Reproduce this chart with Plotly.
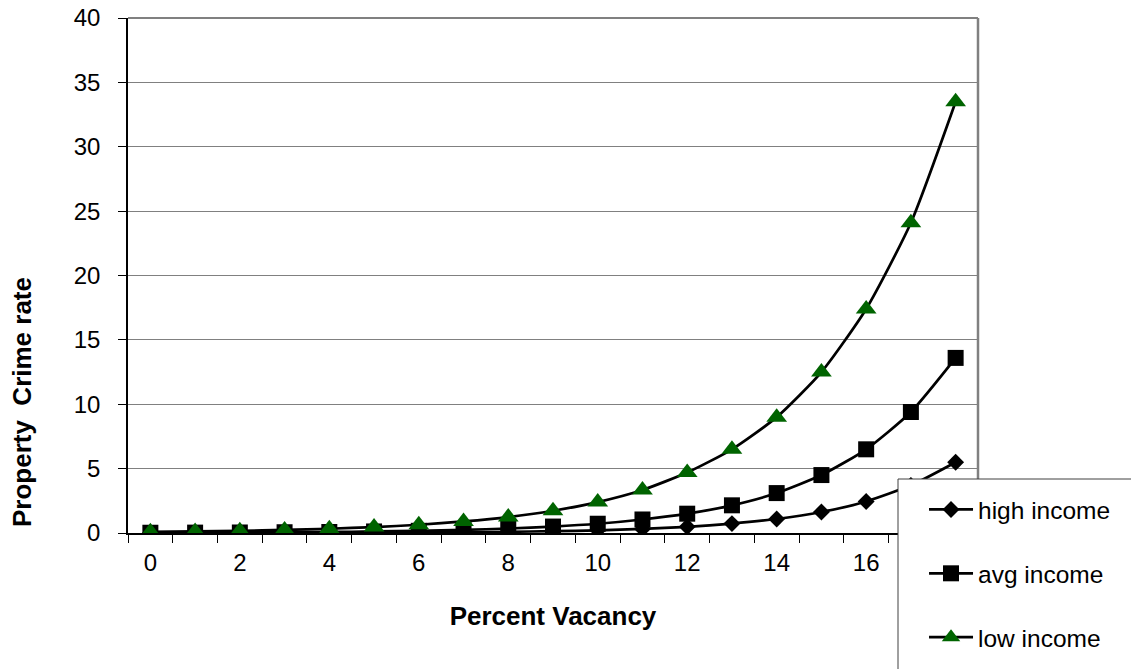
import plotly.graph_objects as go

vacancy = list(range(0, 19))
high_income = [0.004, 0.006, 0.008, 0.012, 0.019, 0.028, 0.042, 0.063, 0.095, 0.14, 0.21, 0.32, 0.48, 0.73, 1.09, 1.63, 2.45, 3.7, 5.5]
avg_income = [0.02, 0.03, 0.04, 0.06, 0.08, 0.12, 0.17, 0.24, 0.35, 0.5, 0.72, 1.05, 1.5, 2.15, 3.1, 4.5, 6.5, 9.4, 13.6]
low_income = [0.09, 0.12, 0.17, 0.24, 0.33, 0.46, 0.64, 0.9, 1.24, 1.73, 2.4, 3.34, 4.7, 6.5, 9.0, 12.5, 17.4, 24.1, 33.5]
x_tick_vals = [0, 2, 4, 6, 8, 10, 12, 14, 16]
y_tick_vals = [0, 5, 10, 15, 20, 25, 30, 35, 40]

FONT = "Liberation Sans, Arial, sans-serif"
W, H = 1131, 669

fig = go.Figure()
series = [
    ("high income", high_income, dict(symbol="diamond", size=13, color="black")),
    ("avg income", avg_income, dict(symbol="square", size=16, color="black")),
    ("low income", low_income, dict(symbol="triangle-up", size=18, color="#006400")),
]
for i, (name, vals, mk) in enumerate(series):
    fig.add_trace(go.Scatter(
        x=vacancy, y=vals, name=name, mode="lines+markers",
        line=dict(color="black", width=2.7, shape="spline", smoothing=0.6),
        marker=mk, legendgroup=f"g{i}",
    ))

fig.update_layout(
    width=W, height=H,
    margin=dict(l=0, r=0, t=0, b=0, autoexpand=False),
    paper_bgcolor="white", plot_bgcolor="white",
    font=dict(family=FONT, size=24, color="black"),
    showlegend=True,
    legend=dict(
        x=0.817, y=0.272, xanchor="left", yanchor="top",
        bgcolor="rgba(0,0,0,0)", borderwidth=0,
        font=dict(family=FONT, size=24.5, color="black"),
        tracegroupgap=29, itemwidth=44,
    ),
    xaxis=dict(
        domain=[128 / W, 978 / W],
        range=[-0.5, 18.5], tickmode="array", tickvals=x_tick_vals,
        ticks="", showgrid=False, zeroline=False, automargin=False,
        showline=True, linecolor="black", linewidth=1.5,
        minor=dict(tick0=-0.5, dtick=1, ticks="outside", ticklen=8, tickcolor="black", tickwidth=1, showgrid=False),
        title=dict(text="<b>Percent Vacancy</b>", font=dict(family=FONT, size=26), standoff=32),
        tickfont=dict(size=24), ticklabelstandoff=7,
    ),
    yaxis=dict(
        domain=[(H - 533) / H, (H - 18) / H],
        range=[0, 40], tickmode="array", tickvals=y_tick_vals,
        ticks="outside", ticklen=8, tickcolor="black",
        showgrid=True, gridcolor="#808080", gridwidth=1,
        zeroline=False, showline=True, linecolor="black", linewidth=1.5, automargin=False,
        tickfont=dict(size=24), ticklabelstandoff=13,
    ),
    annotations=[
        dict(text="<b>Property  Crime rate</b>", textangle=-90, showarrow=False,
             xref="paper", yref="paper", x=22 / W, y=1 - 402 / H,
             xanchor="center", yanchor="middle", font=dict(family=FONT, size=26, color="black")),
    ],
    shapes=[
        dict(type="line", xref="x domain", yref="y domain", x0=0, x1=1, y0=1, y1=1, line=dict(color="#808080", width=2)),
        dict(type="line", xref="x domain", yref="y domain", x0=1, x1=1, y0=0, y1=1, line=dict(color="#808080", width=2.5)),
        dict(type="rect", xref="paper", yref="paper", x0=898 / W, x1=1.1, y0=1 - 479 / H, y1=-0.1,
             fillcolor="white", line=dict(color="#404040", width=1), layer="above"),
    ],
)

fig.write_html("out.html", config={"displayModeBar": False},
               post_script="document.body.style.margin='0';")
